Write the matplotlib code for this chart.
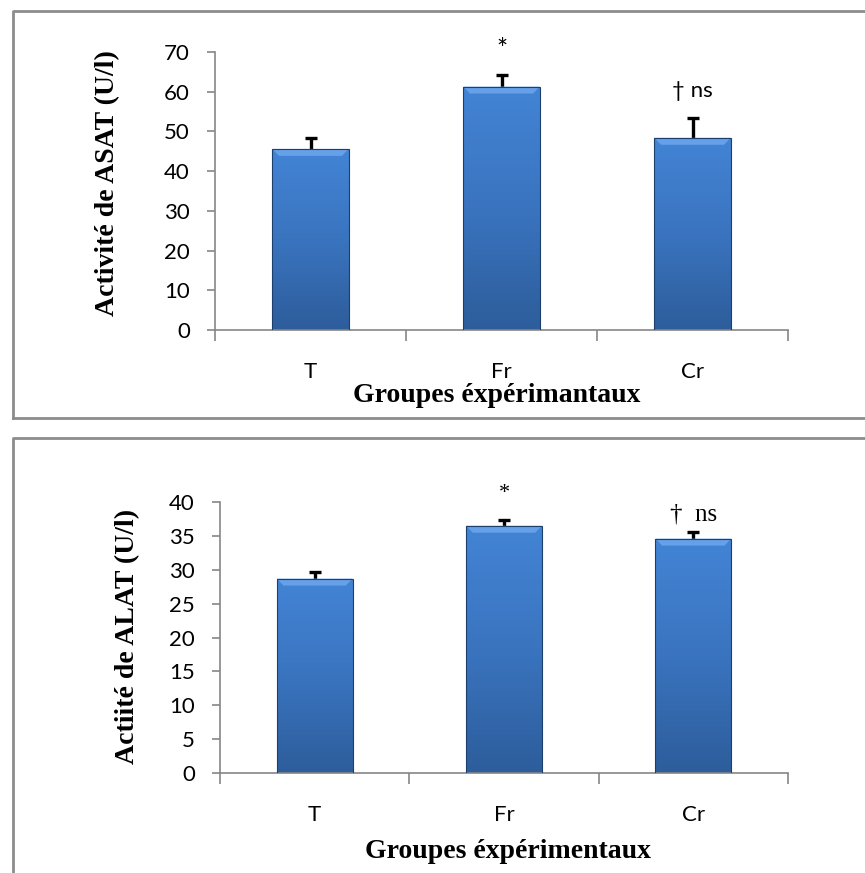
import matplotlib
matplotlib.use("Agg")
import matplotlib.pyplot as plt
import numpy as np
from matplotlib.lines import Line2D
from matplotlib.patches import Polygon

# data
groups = ["T", "Fr", "Cr"]
asat_mean = [45.6, 61.3, 48.4]
asat_err = [2.7, 2.8, 5.0]
alat_mean = [28.7, 36.5, 34.6]
alat_err = [0.9, 0.9, 0.9]

W, H = 865, 873
fig = plt.figure(figsize=(W / 100, H / 100), dpi=100)

def fx(px):
  return px / W

def fy(py):
  return 1 - py / H

SANS = ["Lato", "DejaVu Sans"]
SERIF = ["Liberation Serif", "DejaVu Serif"]
grad = np.linspace(0, 1, 256).reshape(-1, 1)
cmap = matplotlib.colors.LinearSegmentedColormap.from_list("bar", ["#2d5d9b", "#3a74bf", "#4384d5"])

def draw_panel(rect, means, errs, ymax, ystep):
  ax = fig.add_axes(rect)
  x = np.arange(len(groups))
  ax.set_xlim(-0.5, len(groups) - 0.5)
  ax.set_ylim(0, ymax)
  # error bars sit behind the bars so only the upper half shows
  ax.errorbar(x, means, yerr=errs, fmt="none", ecolor="black",
              elinewidth=2.4, capsize=4.5, capthick=2.4, zorder=1)
  bars = ax.bar(x, means, width=0.4, facecolor="none", edgecolor="#1d3f6e", linewidth=0.8, zorder=3)
  for b in bars:
    x0, w, h = b.get_x(), b.get_width(), b.get_height()
    im = ax.imshow(grad, extent=[x0, x0 + w, 0, h], origin="lower", cmap=cmap,
                   aspect="auto", zorder=2)
    im.set_clip_path(b)
    # bevel at top of bar
    dy = ymax / (rect[3] * H) * 7
    dx = 0.035
    ax.add_patch(Polygon([[x0, h], [x0 + w, h], [x0 + w - dx, h - dy], [x0 + dx, h - dy]],
                         closed=True, facecolor="#6fa8ee", edgecolor="none", alpha=0.8, zorder=2.5))
  for s in ["top", "right"]:
    ax.spines[s].set_visible(False)
  for s in ["left", "bottom"]:
    ax.spines[s].set_color("#868686")
    ax.spines[s].set_linewidth(1.2)
  ax.set_yticks(np.arange(0, ymax + 0.1, ystep))
  ax.tick_params(axis="y", direction="out", length=6, width=1.2, color="#868686", labelsize=16, pad=12)
  ax.set_xticks(x)
  ax.set_xticklabels(groups)
  ax.tick_params(axis="x", which="major", length=0, labelsize=16, pad=23)
  ax.set_xticks(np.arange(-0.5, len(groups)), minor=True)
  ax.tick_params(axis="x", which="minor", direction="out", length=8, width=1.2, color="#868686")
  for lab in ax.get_xticklabels() + ax.get_yticklabels():
    lab.set_family(SANS)
  return ax

# top panel : ASAT
ax1 = draw_panel([fx(215), fy(330), fx(788) - fx(215), fy(52) - fy(330)], asat_mean, asat_err, 70, 10)
ax1.text(1, 70.3, "*", ha="center", va="center", fontsize=19, family=SANS, clip_on=False)
ax1.text(2, 60.3, "\u2020 ns", ha="center", va="center", fontsize=16, family=SANS, clip_on=False)
fig.text(fx(108), fy(183), "Activité de ASAT (U/l)", rotation=90, ha="center", va="center",
         fontsize=20, fontweight="bold", family=SERIF)
fig.text(fx(497), fy(396), "Groupes éxpérimantaux", ha="center", va="center",
         fontsize=20, fontweight="bold", family=SERIF)

# bottom panel : ALAT
ax2 = draw_panel([fx(220), fy(773), fx(788) - fx(220), fy(502) - fy(773)], alat_mean, alat_err, 40, 5)
ax2.text(1, 41.2, "*", ha="center", va="center", fontsize=16, family=SERIF, clip_on=False)
ax2.text(2, 38.1, "\u2020  ns", ha="center", va="center", fontsize=18, family=SERIF, clip_on=False)
fig.text(fx(128), fy(636), "Actiité de ALAT (U/l)", rotation=90, ha="center", va="center",
         fontsize=20, fontweight="bold", family=SERIF)
fig.text(fx(508), fy(852), "Groupes éxpérimentaux", ha="center", va="center",
         fontsize=20, fontweight="bold", family=SERIF)

# panel frames
frame = dict(color="#8c8c8c", linewidth=2, transform=fig.transFigure)
fig.add_artist(Line2D([fx(13), fx(13), 1.01], [fy(418), fy(11), fy(11)], **frame))
fig.add_artist(Line2D([fx(13), 1.01], [fy(418), fy(418)], **frame))
fig.add_artist(Line2D([fx(13), fx(13), 1.01], [-0.01, fy(438), fy(438)], **frame))

fig.savefig("out.png", dpi=100)
